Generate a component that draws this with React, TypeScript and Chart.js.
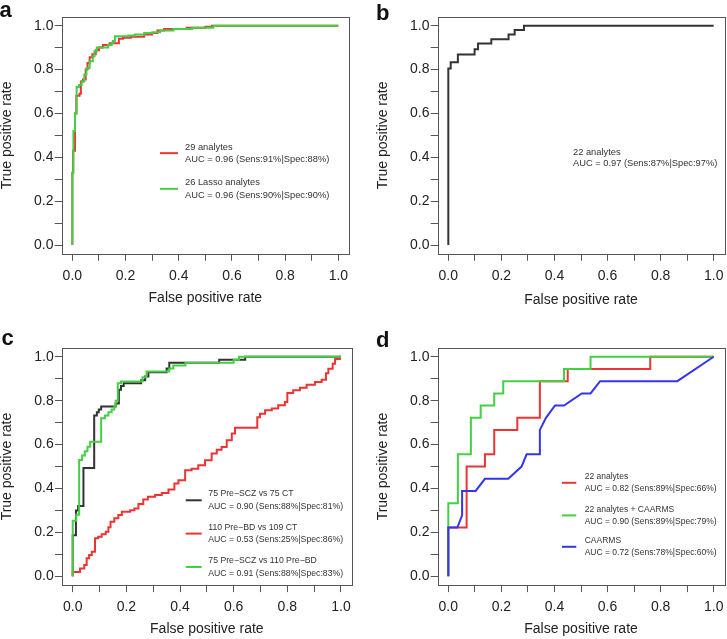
import React, { useEffect, useRef } from 'react';
import { Chart, registerables } from 'chart.js';
Chart.register(...registerables);

const FONT = '"Liberation Sans", Arial, Helvetica, sans-serif';

// ---- axis ticks ----
const TICK_VALUES = [0, 0.1, 0.2, 0.3, 0.4, 0.5, 0.6, 0.7, 0.8, 0.9, 1.0];
const X_TITLE = 'False positive rate';
const Y_TITLE = 'True positive rate';

// ---- panel a ----
const A_RED_FPR = [0, 0, 0.003, 0.01, 0.015, 0.027, 0.032, 0.04, 0.05, 0.057, 0.065, 0.075, 0.088, 0.1, 0.115, 0.14, 0.175, 0.19, 0.22, 0.27, 0.3, 0.32, 0.345, 0.43, 0.5, 0.525, 1];
const A_RED_TPR = [0, 0.33, 0.43, 0.6, 0.68, 0.69, 0.745, 0.755, 0.8, 0.83, 0.856, 0.87, 0.888, 0.9, 0.912, 0.92, 0.94, 0.945, 0.95, 0.96, 0.967, 0.978, 0.985, 0.99, 0.995, 1, 1];
const A_GREEN_FPR = [0, 0, 0.004, 0.01, 0.016, 0.025, 0.035, 0.045, 0.053, 0.065, 0.077, 0.083, 0.092, 0.135, 0.148, 0.152, 0.16, 0.21, 0.235, 0.27, 0.3, 0.33, 0.38, 0.45, 0.53, 1];
const A_GREEN_TPR = [0, 0.33, 0.52, 0.6, 0.72, 0.73, 0.745, 0.777, 0.806, 0.838, 0.86, 0.883, 0.9, 0.912, 0.92, 0.93, 0.952, 0.955, 0.96, 0.967, 0.97, 0.978, 0.985, 0.99, 1, 1];
const A_LABELS = [
  ['29 analytes', 'AUC = 0.96 (Sens:91%|Spec:88%)'],
  ['26 Lasso analytes', 'AUC = 0.96 (Sens:90%|Spec:90%)'],
];

// ---- panel b ----
const B_FPR = [0, 0, 0.009, 0.036, 0.099, 0.112, 0.162, 0.227, 0.25, 0.285, 1];
const B_TPR = [0, 0.805, 0.833, 0.869, 0.892, 0.919, 0.938, 0.96, 0.98, 1, 1];
const B_LABELS = [['22 analytes', 'AUC = 0.97 (Sens:87%|Spec:97%)']];

// ---- panel c ----
const C_BLACK_FPR = [0, 0, 0.012, 0.02, 0.04, 0.08, 0.09, 0.097, 0.106, 0.16, 0.172, 0.18, 0.19, 0.255, 0.27, 0.282, 0.35, 0.36, 0.546, 0.643, 1];
const C_BLACK_TPR = [0, 0.187, 0.3, 0.32, 0.493, 0.733, 0.747, 0.76, 0.773, 0.787, 0.85, 0.867, 0.88, 0.893, 0.91, 0.93, 0.947, 0.973, 0.987, 1, 1];
const C_RED_FPR = [0, 0, 0.027, 0.043, 0.052, 0.061, 0.071, 0.083, 0.095, 0.108, 0.123, 0.133, 0.141, 0.155, 0.17, 0.183, 0.214, 0.23, 0.245, 0.263, 0.28, 0.307, 0.332, 0.357, 0.379, 0.394, 0.419, 0.443, 0.468, 0.493, 0.518, 0.537, 0.555, 0.574, 0.593, 0.605, 0.688, 0.698, 0.717, 0.742, 0.766, 0.791, 0.8, 0.822, 0.847, 0.872, 0.903, 0.928, 0.944, 0.953, 0.969, 0.978, 0.996, 1];
const C_RED_TPR = [0, 0.02, 0.036, 0.051, 0.082, 0.097, 0.112, 0.173, 0.18, 0.192, 0.203, 0.223, 0.249, 0.264, 0.279, 0.294, 0.301, 0.309, 0.329, 0.35, 0.362, 0.37, 0.38, 0.395, 0.423, 0.438, 0.483, 0.49, 0.506, 0.529, 0.559, 0.577, 0.589, 0.62, 0.65, 0.677, 0.725, 0.741, 0.756, 0.764, 0.779, 0.794, 0.835, 0.847, 0.859, 0.873, 0.885, 0.895, 0.925, 0.945, 0.968, 0.99, 1, 1];
const C_GREEN_FPR = [0, 0, 0.013, 0.024, 0.035, 0.045, 0.055, 0.065, 0.106, 0.12, 0.133, 0.145, 0.155, 0.16, 0.168, 0.18, 0.26, 0.275, 0.36, 0.375, 0.42, 0.6, 0.62, 1];
const C_GREEN_TPR = [0, 0.253, 0.28, 0.53, 0.55, 0.57, 0.59, 0.613, 0.72, 0.733, 0.747, 0.76, 0.773, 0.8, 0.88, 0.887, 0.907, 0.933, 0.947, 0.96, 0.973, 0.987, 1, 1];
const C_LABELS = [
  ['75 Pre\u2212SCZ vs 75 CT', 'AUC = 0.90 (Sens:88%|Spec:81%)'],
  ['110 Pre\u2212BD vs 109 CT', 'AUC = 0.53 (Sens:25%|Spec:86%)'],
  ['75 Pre\u2212SCZ vs 110 Pre\u2212BD', 'AUC = 0.91 (Sens:88%|Spec:83%)'],
];

// ---- panel d ----
const D_RED_FPR = [0, 0, 0.069, 0.138, 0.173, 0.26, 0.345, 0.45, 0.761, 1];
const D_RED_TPR = [0, 0.222, 0.5, 0.556, 0.667, 0.722, 0.889, 0.944, 1, 1];
const D_GREEN_FPR = [0, 0, 0.036, 0.085, 0.122, 0.173, 0.207, 0.436, 0.536, 1];
const D_GREEN_TPR = [0, 0.333, 0.556, 0.722, 0.778, 0.833, 0.889, 0.944, 1, 1];
const D_BLUE_FPR = [0, 0, 0.034, 0.052, 0.052, 0.103, 0.138, 0.226, 0.276, 0.295, 0.345, 0.345, 0.368, 0.402, 0.436, 0.503, 0.536, 0.572, 0.863, 1];
const D_BLUE_TPR = [0, 0.222, 0.222, 0.278, 0.389, 0.389, 0.444, 0.444, 0.5, 0.556, 0.556, 0.667, 0.722, 0.778, 0.778, 0.833, 0.833, 0.889, 0.889, 1];
const D_LABELS = [
  ['22 analytes', 'AUC = 0.82 (Sens:89%|Spec:66%)'],
  ['22 analytes + CAARMS', 'AUC = 0.90 (Sens:89%|Spec:79%)'],
  ['CAARMS', 'AUC = 0.72 (Sens:78%|Spec:60%)'],
];

const RED = '#ee3333';
const GREEN = '#44cf44';
const BLUE = '#3535ee';
const BLACK = '#333333';

type Series = { x: number[]; y: number[]; color: string; stepped: boolean; label: string[] };
type Spec = {
  left: number; top: number; width: number; height: number;
  area: { l: number; t: number; r: number; b: number };
  xTitlePad: number; yTitlePad: number;
  letter: string; letterX: number; letterY: number;
  seg: [number, number]; textX: number; rowY: number[]; gap: number; legendSize: number;
  series: Series[];
};

const PANELS: Spec[] = [
  {
    left: 0, top: 0, width: 363, height: 320,
    area: { l: 61.7, t: 16.9, r: 349, b: 253.8 },
    xTitlePad: 15, yTitlePad: 0.5,
    letter: 'a', letterX: -0.5, letterY: 17,
    seg: [160, 178], textX: 185, rowY: [147, 182.7], gap: 12.3, legendSize: 9.3,
    series: [
      { x: A_RED_FPR, y: A_RED_TPR, color: RED, stepped: true, label: A_LABELS[0] },
      { x: A_GREEN_FPR, y: A_GREEN_TPR, color: GREEN, stepped: true, label: A_LABELS[1] },
    ],
  },
  {
    left: 363, top: 0, width: 364, height: 320,
    area: { l: 74.7, t: 16.9, r: 361.3, b: 253.8 },
    xTitlePad: 13, yTitlePad: 13,
    letter: 'b', letterX: 13, letterY: 20,
    seg: [0, 0], textX: 210, rowY: [152.5], gap: 11, legendSize: 9.3,
    series: [
      { x: B_FPR, y: B_TPR, color: BLACK, stepped: true, label: B_LABELS[0] },
    ],
  },
  {
    left: 0, top: 320, width: 363, height: 319,
    area: { l: 62, t: 28, r: 351.7, b: 265.1 },
    xTitlePad: 2.5, yTitlePad: 0.5,
    letter: 'c', letterX: 1.5, letterY: 25,
    seg: [185.7, 201.7], textX: 208.3, rowY: [174, 207.3, 240.7], gap: 12.6, legendSize: 8.7,
    series: [
      { x: C_BLACK_FPR, y: C_BLACK_TPR, color: BLACK, stepped: true, label: C_LABELS[0] },
      { x: C_RED_FPR, y: C_RED_TPR, color: RED, stepped: true, label: C_LABELS[1] },
      { x: C_GREEN_FPR, y: C_GREEN_TPR, color: GREEN, stepped: true, label: C_LABELS[2] },
    ],
  },
  {
    left: 363, top: 320, width: 364, height: 319,
    area: { l: 74.7, t: 28, r: 361.3, b: 265.1 },
    xTitlePad: 2.5, yTitlePad: 13,
    letter: 'd', letterX: 13, letterY: 27,
    seg: [199, 213.3], textX: 221.7, rowY: [156.7, 189.3, 220.7], gap: 12.2, legendSize: 8.5,
    series: [
      { x: D_RED_FPR, y: D_RED_TPR, color: RED, stepped: true, label: D_LABELS[0] },
      { x: D_GREEN_FPR, y: D_GREEN_TPR, color: GREEN, stepped: true, label: D_LABELS[1] },
      { x: D_BLUE_FPR, y: D_BLUE_TPR, color: BLUE, stepped: false, label: D_LABELS[2] },
    ],
  },
];

function makeDecor(spec: Spec) {
  return {
    id: 'decor',
    afterDatasetsDraw(chart: any) {
      const ctx = chart.ctx as CanvasRenderingContext2D;
      const a = chart.chartArea;
      ctx.save();
      ctx.strokeStyle = '#555';
      ctx.lineWidth = 1;
      ctx.strokeRect(Math.round(a.left) + 0.5, Math.round(a.top) + 0.5, Math.round(a.right - a.left), Math.round(a.bottom - a.top));
      // legend
      ctx.font = `${spec.legendSize}px ${FONT}`;
      ctx.textBaseline = 'middle';
      ctx.textAlign = 'left';
      spec.series.forEach((s, i) => {
        const y1 = spec.rowY[i];
        const y2 = y1 + spec.gap;
        if (spec.seg[1] > spec.seg[0]) {
          ctx.strokeStyle = s.color;
          ctx.lineWidth = 2;
          ctx.beginPath();
          ctx.moveTo(spec.seg[0], (y1 + y2) / 2);
          ctx.lineTo(spec.seg[1], (y1 + y2) / 2);
          ctx.stroke();
        }
        ctx.fillStyle = '#333';
        ctx.fillText(s.label[0], spec.textX, y1);
        ctx.fillText(s.label[1], spec.textX, y2);
      });
      // panel letter
      ctx.font = `bold 22px ${FONT}`;
      ctx.textBaseline = 'alphabetic';
      ctx.fillStyle = '#111';
      ctx.fillText(spec.letter, spec.letterX, spec.letterY);
      ctx.restore();
    },
  };
}

function makeConfig(spec: Spec): any {
  const n = spec.series.length;
  const datasets = spec.series.map((s, i) => ({
    data: s.x.map((x, j) => ({ x, y: s.y[j] })),
    borderColor: s.color,
    backgroundColor: s.color,
    borderWidth: 2,
    pointRadius: 0,
    showLine: true,
    fill: false,
    tension: 0,
    stepped: s.stepped ? 'before' : false,
    order: n - i,
  }));
  const tickFont = { family: FONT, size: 14, lineHeight: 1 };
  const grid = { display: true, drawOnChartArea: false, drawTicks: true, tickLength: 7, color: '#555', lineWidth: 1 };
  const setTicks = (s: any) => { s.ticks = TICK_VALUES.map((v) => ({ value: v })); };
  const label = (v: any, i: number) => (i % 2 === 0 ? Number(v).toFixed(1) : '');
  const xH = spec.height - spec.area.b;
  const yW = spec.area.l;
  return {
    type: 'scatter',
    data: { datasets },
    plugins: [makeDecor(spec)],
    options: {
      animation: false,
      responsive: false,
      events: [],
      layout: { padding: { left: 0, top: spec.area.t, right: spec.width - spec.area.r, bottom: 0 } },
      plugins: { legend: { display: false }, tooltip: { enabled: false } },
      scales: {
        x: {
          type: 'linear', position: 'bottom', min: -0.04, max: 1.04,
          afterBuildTicks: setTicks,
          afterFit: (s: any) => { s.height = xH; s.paddingLeft = 0; s.paddingRight = 0; },
          ticks: { autoSkip: false, maxRotation: 0, padding: 8.5, color: '#222', font: tickFont, callback: label },
          grid, border: { display: false },
          title: { display: true, text: X_TITLE, color: '#222', font: tickFont, padding: { top: 0, bottom: spec.xTitlePad } },
        },
        y: {
          type: 'linear', position: 'left', min: -0.04, max: 1.04,
          afterBuildTicks: setTicks,
          afterFit: (s: any) => { s.width = yW; s.paddingTop = 0; s.paddingBottom = 0; },
          ticks: { autoSkip: false, padding: 1.2, color: '#222', font: tickFont, callback: label },
          grid, border: { display: false },
          title: { display: true, text: Y_TITLE, color: '#222', font: tickFont, padding: { top: spec.yTitlePad, bottom: 0 } },
        },
      },
    },
  };
}

function Panel({ spec }: { spec: Spec }) {
  const ref = useRef<HTMLCanvasElement>(null);
  useEffect(() => {
    const chart = new Chart(ref.current as HTMLCanvasElement, makeConfig(spec));
    return () => chart.destroy();
  }, [spec]);
  return (
    <canvas
      ref={ref}
      width={spec.width}
      height={spec.height}
      style={{ position: 'absolute', left: spec.left, top: spec.top, width: spec.width, height: spec.height }}
    />
  );
}

export default function App() {
  return (
    <div style={{ position: 'absolute', left: 0, top: 0, width: 727, height: 639, background: '#fff', overflow: 'hidden' }}>
      {PANELS.map((p) => (
        <Panel key={p.letter} spec={p} />
      ))}
    </div>
  );
}
